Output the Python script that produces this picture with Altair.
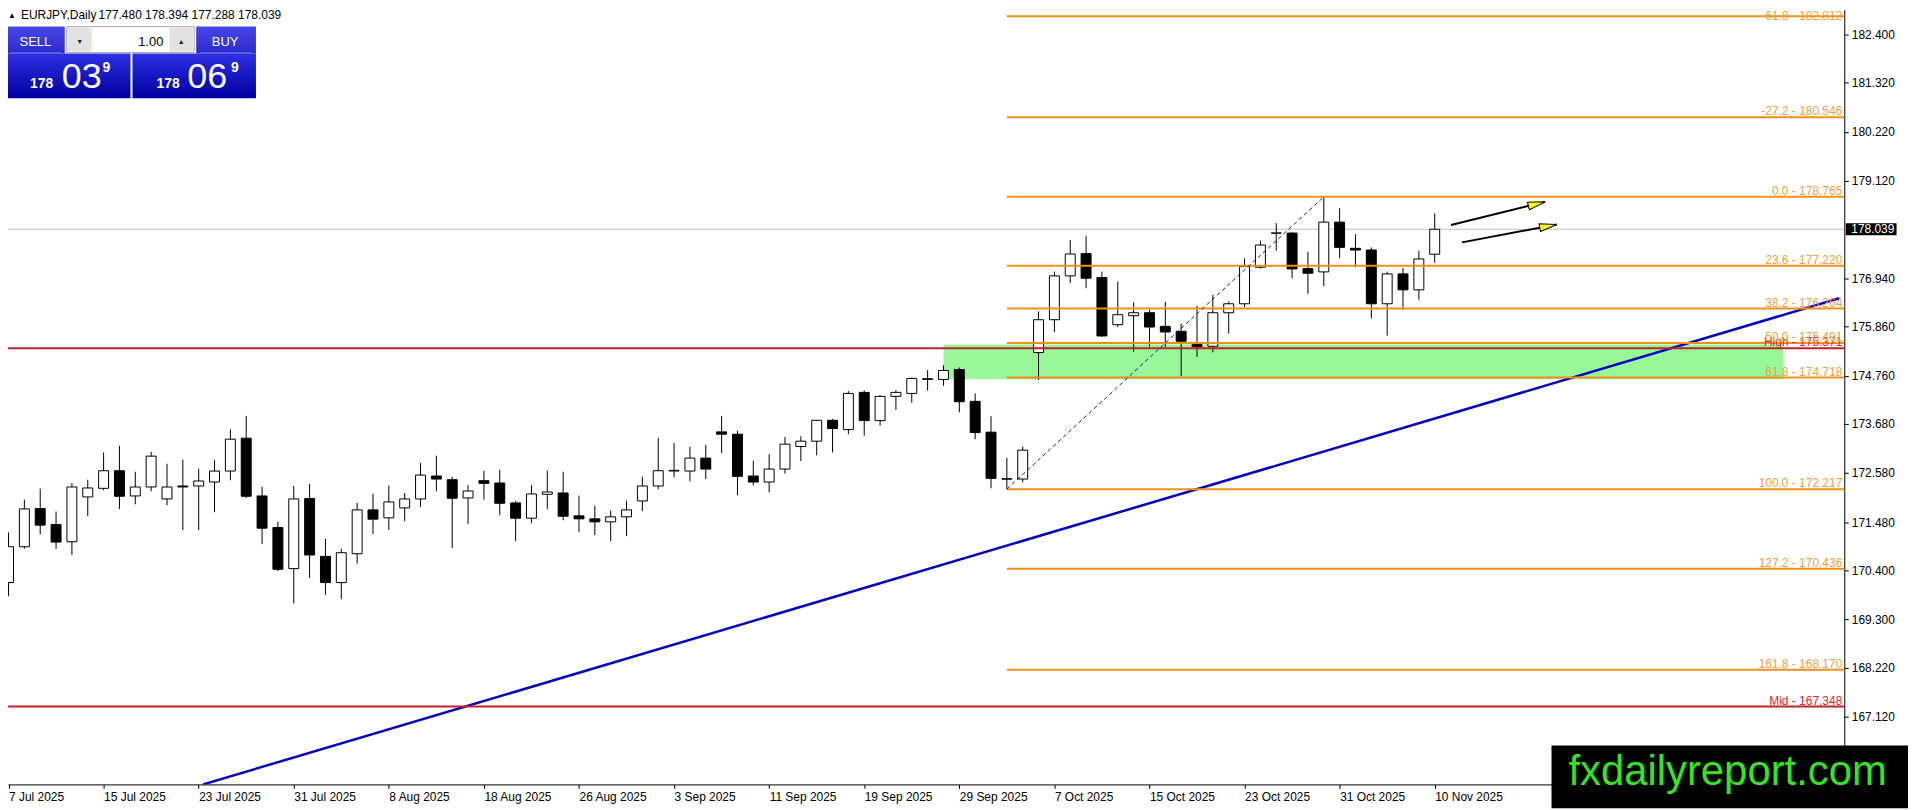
import math
import altair as alt
import pandas as pd

# ---------------- data ----------------
opens = [170.125, 170.927, 171.783, 171.426, 171.039, 172.043, 172.236, 172.630, 172.065, 172.266,
         171.998, 172.288, 172.288, 172.377, 172.623, 173.359, 172.065, 171.359, 170.437, 172.006,
         170.712, 170.124, 170.771, 171.753, 171.574, 171.797, 171.998, 172.511, 172.429, 172.020,
         172.407, 172.355, 171.909, 171.567, 172.102, 172.132, 171.619, 171.552, 171.485, 171.597,
         171.953, 172.288, 172.623, 172.623, 172.913, 173.500, 173.448, 172.511, 172.377, 172.667,
         173.173, 173.292, 173.760, 173.552, 174.385, 173.753, 174.295, 174.362, 174.690, 174.675,
         174.898, 174.184, 173.493, 172.440, 172.444, 175.277, 176.013, 176.995, 177.493, 176.957,
         175.902, 176.102, 176.169, 175.864, 175.753, 175.455, 175.418, 176.169, 176.370, 177.188,
         177.950, 177.954, 177.158, 177.084, 178.199, 177.612, 177.574, 176.370, 177.039, 176.682,
         177.480]
highs = [171.247, 171.983, 172.229, 171.716, 172.355, 172.429, 173.039, 173.188, 172.608, 173.054,
         172.786, 172.876, 172.675, 172.876, 173.560, 173.857, 172.266, 171.493, 172.288, 172.333,
         171.106, 170.883, 171.909, 172.117, 172.296, 172.132, 172.801, 172.965, 172.489, 172.310,
         172.630, 172.652, 171.953, 172.310, 172.630, 172.608, 172.072, 171.849, 171.738, 171.961,
         172.496, 173.366, 173.255, 173.165, 173.210, 173.857, 173.522, 172.853, 173.002, 173.388,
         173.403, 173.768, 173.790, 174.414, 174.429, 174.325, 174.437, 174.719, 174.883, 174.995,
         174.942, 174.362, 173.849, 172.920, 173.173, 176.199, 177.091, 177.798, 177.894, 177.091,
         176.868, 176.400, 176.236, 176.414, 175.924, 176.325, 176.571, 176.422, 177.389, 177.783,
         178.177, 177.970, 177.537, 178.765, 178.511, 177.931, 177.634, 177.091, 177.173, 177.560,
         178.394]
lows = [169.819, 170.883, 171.203, 170.875, 170.742, 171.612, 172.191, 171.775, 171.879, 172.169,
        171.857, 171.299, 171.299, 171.701, 172.415, 172.021, 170.987, 170.385, 169.656, 170.228,
        169.849, 169.753, 170.548, 171.210, 171.299, 171.500, 171.820, 172.169, 170.898, 171.433,
        171.983, 171.634, 171.054, 171.455, 171.768, 171.522, 171.254, 171.188, 171.054, 171.165,
        171.723, 172.214, 172.481, 172.392, 172.444, 173.024, 172.080, 172.303, 172.147, 172.563,
        172.846, 172.972, 173.039, 173.448, 173.418, 173.641, 173.991, 174.154, 174.422, 174.533,
        173.939, 173.336, 172.236, 172.217, 172.370, 174.660, 175.738, 176.831, 176.719, 175.626,
        175.849, 175.292, 175.403, 175.403, 174.749, 175.180, 175.284, 175.701, 176.296, 177.158,
        177.560, 176.942, 176.593, 176.764, 177.389, 177.188, 176.035, 175.656, 176.236, 176.459,
        177.288]
closes = [170.928, 171.775, 171.411, 171.032, 172.266, 172.244, 172.630, 172.058, 172.266, 172.957,
          172.266, 172.266, 172.400, 172.623, 173.337, 172.058, 171.344, 170.422, 171.998, 170.742,
          170.124, 170.794, 171.753, 171.545, 171.931, 171.998, 172.533, 172.444, 172.013, 172.176,
          172.347, 171.901, 171.567, 172.110, 172.154, 171.611, 171.552, 171.485, 171.597, 171.753,
          172.288, 172.630, 172.638, 172.913, 172.667, 173.448, 172.504, 172.377, 172.667, 173.225,
          173.292, 173.760, 173.574, 174.362, 173.753, 174.295, 174.385, 174.697, 174.675, 174.876,
          174.176, 173.485, 172.459, 172.452, 173.091, 176.013, 176.995, 177.485, 176.942, 175.649,
          176.124, 176.169, 175.849, 175.738, 175.530, 175.411, 176.169, 176.370, 177.203, 177.686,
          177.956, 177.151, 177.054, 178.199, 177.634, 177.574, 176.370, 177.039, 176.682, 177.374,
          178.039]

date_labels = ["7 Jul 2025", "15 Jul 2025", "23 Jul 2025", "31 Jul 2025", "8 Aug 2025",
               "18 Aug 2025", "26 Aug 2025", "3 Sep 2025", "11 Sep 2025", "19 Sep 2025",
               "29 Sep 2025", "7 Oct 2025", "15 Oct 2025", "23 Oct 2025", "31 Oct 2025",
               "10 Nov 2025"]
date_label_bars = [0, 6, 12, 18, 24, 30, 36, 42, 48, 54, 60, 66, 72, 78, 84, 90]
price_ticks = [182.400, 181.320, 180.220, 179.120, 176.940, 175.860, 174.760,
               173.680, 172.580, 171.480, 170.400, 169.300, 168.220, 167.120]

fib_pct = [-61.8, -27.2, 0.0, 23.6, 38.2, 50.0, 61.8, 100.0, 127.2, 161.8]
fib_price = [182.812, 180.546, 178.765, 177.220, 176.264, 175.491, 174.718, 172.217, 170.436, 168.170]
fib_start_bar = 63
fib_anchor_bars = [63, 83]
fib_anchor_prices = [172.217, 178.765]

red_names = ["High", "Mid"]
red_prices = [175.371, 167.348]

zone_bars = [59.0, 112.0]
zone_prices = [174.68, 175.46]

trend_bars = [12.28, 115.53]
trend_prices = [165.603, 176.493]

arrow_tail_bars = [91.03, 91.72]
arrow_tail_prices = [178.133, 177.745]
arrow_tip_bars = [96.97, 97.70]
arrow_tip_prices = [178.653, 178.146]

bid = 178.039
ohlc_title = "177.480 178.394 177.288 178.039"

# ---------------- layout ----------------
FONT = "Liberation Sans"
W, H = 1844, 778
PX_PER_BAR = 16.0
PX_PER_UNIT = 44.83
X0 = 0.28125
X1 = X0 + W / PX_PER_BAR
Y_TOP = 182.4 + 25 / PX_PER_UNIT
Y_BOT = Y_TOP - H / PX_PER_UNIT

ORANGE = "#F0901A"
ORANGE_T = "#EBA044"
RED = "#C0222A"
RED_T = "#DC2832"

xs = alt.Scale(domain=[X0, X1], nice=False, zero=False)
ys = alt.Scale(domain=[Y_BOT, Y_TOP], nice=False, zero=False)

label_expr = "[" + ",".join("'%s'" % d for d in date_labels) + "][round(datum.value/6)]"
xaxis = alt.Axis(values=date_label_bars, labelExpr=label_expr, orient="bottom",
                 labelAlign="left", labelBaseline="middle", labelPadding=8, tickSize=4,
                 tickColor="black", domainColor="black", labelColor="black",
                 labelFont=FONT, labelFontSize=12, grid=False, title=None,
                 labelFlush=False, labelOverlap=False, labelBound=False)
yaxis = alt.Axis(values=price_ticks, orient="right", format=".3f", tickSize=4,
                 labelPadding=3, tickColor="black", domainColor="black",
                 labelColor="black", labelFont=FONT, labelFontSize=12, grid=False,
                 title=None, labelFlush=False, labelOverlap=False, labelBound=False)


def X(field):
    return alt.X(field, scale=xs, axis=xaxis)


def Y(field):
    return alt.Y(field, scale=ys, axis=yaxis)


df = pd.DataFrame({"i": list(range(len(opens))), "open": opens, "high": highs,
                   "low": lows, "close": closes})

one = alt.Data(values=[{"k": 1}])


def rect(x, x2, y, y2, fill, stroke=None):
    kw = {"fill": fill}
    if stroke:
        kw["stroke"] = stroke
        kw["strokeWidth"] = 1
    return alt.Chart(one).mark_rect(**kw).encode(
        x=alt.value(x), x2=alt.value(x2), y=alt.value(y), y2=alt.value(y2))


def txt(x, y, s, size, color, align="left", weight="normal"):
    return alt.Chart(one).mark_text(text=s, fontSize=size, color=color, align=align,
                                    baseline="alphabetic", fontWeight=weight,
                                    font=FONT).encode(x=alt.value(x), y=alt.value(y))


zone = alt.Chart(pd.DataFrame({"x0": [zone_bars[0]], "x1": [zone_bars[1]],
                               "y0": [zone_prices[0]], "y1": [zone_prices[1]]})
                 ).mark_rect(color="#98F898").encode(
    x=X("x0:Q"), x2="x1:Q", y=Y("y0:Q"), y2="y1:Q")

bid_line = alt.Chart(pd.DataFrame({"p": [bid]})).mark_rule(color="#C0C0C0", strokeWidth=1).encode(
    x=alt.value(0), x2=alt.value(W), y=Y("p:Q"))

wicks = alt.Chart(df).mark_rule(color="black", strokeWidth=1).encode(
    x=X("i:Q"), y=Y("low:Q"), y2="high:Q")

bodies = alt.Chart(df).mark_bar(width=10, stroke="black", strokeWidth=1).encode(
    x=X("i:Q"), y=Y("open:Q"), y2="close:Q",
    fill=alt.condition("datum.close >= datum.open", alt.value("white"), alt.value("black")))

red_df = pd.DataFrame({"p": red_prices,
                       "label": ["%s - %.3f" % (n, p) for n, p in zip(red_names, red_prices)]})
red_lines = alt.Chart(red_df).mark_rule(color=RED, strokeWidth=2).encode(
    x=alt.value(0), x2=alt.value(W), y=Y("p:Q"))
red_labels = alt.Chart(red_df).mark_text(align="right", baseline="alphabetic", dy=-2,
                                         color=RED_T, fontSize=12, font=FONT).encode(
    x=alt.value(W - 2), y=Y("p:Q"), text="label:N")

trend = alt.Chart(pd.DataFrame({"a": [trend_bars[0]], "b": [trend_bars[1]],
                                "pa": [trend_prices[0]], "pb": [trend_prices[1]]})
                  ).mark_rule(color="#0000C8", strokeWidth=2.5, clip=True).encode(
    x=X("a:Q"), x2="b:Q", y=Y("pa:Q"), y2="pb:Q")

fib_df = pd.DataFrame({"p": fib_price, "s": [fib_start_bar] * len(fib_price),
                       "label": ["%.1f - %.3f" % (a, b) for a, b in zip(fib_pct, fib_price)]})
# a label whose text would rise above the top edge is nudged down to stay visible
fib_df["dy"] = [-2 if p < Y_TOP - 11 / PX_PER_UNIT else 3.5 for p in fib_price]
fib_lines = alt.Chart(fib_df).mark_rule(color=ORANGE, strokeWidth=2).encode(
    x=X("s:Q"), x2=alt.value(W), y=Y("p:Q"))
fib_labels_main = alt.Chart(fib_df).transform_filter("datum.dy < 0").mark_text(
    align="right", baseline="alphabetic", dy=-2, color=ORANGE_T, fontSize=12,
    font=FONT).encode(x=alt.value(W - 2), y=Y("p:Q"), text="label:N")
fib_labels_top = alt.Chart(fib_df).transform_filter("datum.dy > 0").mark_text(
    align="right", baseline="alphabetic", dy=3.5, color=ORANGE_T, fontSize=12,
    font=FONT).encode(x=alt.value(W - 2), y=Y("p:Q"), text="label:N")

fib_diag = alt.Chart(pd.DataFrame({"a": [fib_anchor_bars[0]], "b": [fib_anchor_bars[1]],
                                   "pa": [fib_anchor_prices[0]], "pb": [fib_anchor_prices[1]]})
                     ).mark_rule(color="#1A1A8C", strokeWidth=1, strokeDash=[4, 3]).encode(
    x=X("a:Q"), x2="b:Q", y=Y("pa:Q"), y2="pb:Q")

angles = []
for a0, p0, a1, p1 in zip(arrow_tail_bars, arrow_tail_prices, arrow_tip_bars, arrow_tip_prices):
    dx = (a1 - a0) * PX_PER_BAR
    dy = -(p1 - p0) * PX_PER_UNIT
    angles.append(math.degrees(math.atan2(dy, dx)) % 360)
arrow_df = pd.DataFrame({"a": arrow_tail_bars, "pa": arrow_tail_prices,
                         "b": arrow_tip_bars, "pb": arrow_tip_prices, "ang": angles})
arrow_shafts = alt.Chart(arrow_df).mark_rule(color="black", strokeWidth=2).encode(
    x=X("a:Q"), x2="b:Q", y=Y("pa:Q"), y2="pb:Q")
arrow_heads = alt.Chart(arrow_df).mark_point(
    shape="M0,0L-2,-0.45L-2,0.45Z", filled=True, fill="#FFFF00", stroke="black",
    strokeWidth=1, size=300, opacity=1).encode(
    x=X("b:Q"), y=Y("pb:Q"), angle=alt.Angle("ang:Q", scale=None))

bid_df = pd.DataFrame({"p": [bid], "t": ["%.3f" % bid]})
bid_box = alt.Chart(bid_df).mark_point(
    shape="M-1,-0.235L1,-0.235L1,0.235L-1,0.235Z", filled=True, fill="black",
    strokeWidth=0, size=2601, opacity=1).encode(x=alt.value(1871), y=Y("p:Q"))
bid_text = alt.Chart(bid_df).mark_text(align="left", baseline="middle", color="white",
                                       fontSize=12, font=FONT).encode(
    x=alt.value(1851), y=Y("p:Q"), text="t:N")

# ---------------- header / trade panel ----------------
g_top = alt.LinearGradient(gradient="linear", x1=0, x2=0, y1=0, y2=1,
                           stops=[alt.GradientStop(color="#4848E8", offset=0),
                                  alt.GradientStop(color="#2A2AD0", offset=1)])
g_bot = alt.LinearGradient(gradient="linear", x1=0, x2=0, y1=0, y2=1,
                           stops=[alt.GradientStop(color="#2E2EE6", offset=0),
                                  alt.GradientStop(color="#0000A0", offset=1)])

panel = [
    txt(0, 8, "▲", 8, "black"),
    txt(13, 9, "EURJPY,Daily", 12, "black"),
    txt(91, 9, ohlc_title, 12, "black"),
    rect(0, 57, 17, 44, g_top),
    rect(189, 249, 17, 44, g_top),
    rect(59, 187, 17, 43, "white", "#A8A8A8"),
    rect(60, 84, 18, 42, "#E2E2E2"),
    rect(162, 186, 18, 42, "#E2E2E2"),
    rect(2, 54, 43, 44, "#8C8CF0"),
    rect(193, 245, 43, 44, "#8C8CF0"),
    rect(0, 123, 44, 89, g_bot),
    rect(125, 249, 44, 89, g_bot),
    txt(27.5, 36, "SELL", 13, "white", align="center"),
    txt(218, 36, "BUY", 13, "white", align="center"),
    txt(156, 36, "1.00", 13, "black", align="right"),
    txt(72, 34, "▼", 7, "#202020", align="center"),
    txt(174, 34, "▲", 7, "#202020", align="center"),
    txt(22, 79, "178", 14, "white", weight="bold"),
    txt(54, 79, "03", 36, "white"),
    txt(95, 63, "9", 14, "white", weight="bold"),
    txt(149, 79, "178", 14, "white", weight="bold"),
    txt(180, 79, "06", 36, "white"),
    txt(224, 63, "9", 14, "white", weight="bold"),
]

logo = [
    rect(1550, 1908, 739, 802, "black"),
    txt(1567, 779, "fxdailyreport.com", 42, "#33E61F"),
]

layers = [zone, bid_line, wicks, bodies, trend, red_lines, fib_lines, fib_diag,
          red_labels, fib_labels_main, fib_labels_top, arrow_shafts, arrow_heads,
          bid_box, bid_text] + panel + logo

chart = alt.layer(*layers).properties(
    width=W, height=H,
    padding={"left": 0, "top": 0, "right": 64, "bottom": 24},
    autosize=alt.AutoSizeParams(type="none"),
    background="white",
).configure_view(strokeWidth=0)

chart.save("out.html", embed_options={"renderer": "svg", "actions": False})
